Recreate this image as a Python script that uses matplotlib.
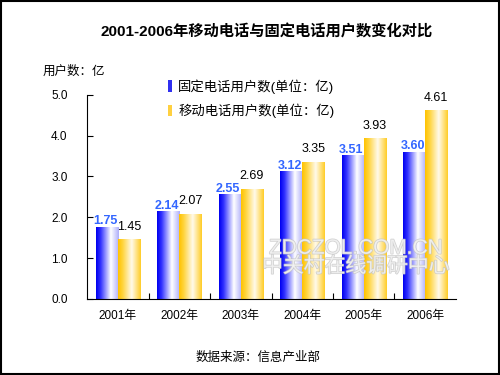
import numpy as np
import matplotlib
matplotlib.use('Agg')
import matplotlib.pyplot as plt
from matplotlib.patches import Patch, Rectangle
import matplotlib.patheffects as pe

plt.rcParams['font.family'] = ['Liberation Sans', 'Noto Sans CJK SC', 'DejaVu Sans']

years = ['2001年', '2002年', '2003年', '2004年', '2005年', '2006年']
fixed = [1.75, 2.14, 2.55, 3.12, 3.51, 3.60]
mobile = [1.45, 2.07, 2.69, 3.35, 3.93, 4.61]
fixed_label = '固定电话用户数(单位：亿)'
mobile_label = '移动电话用户数(单位：亿)'


def gradient(stops, n=64):
    pos = [s[0] for s in stops]
    cols = np.array([s[1] for s in stops], dtype=float) / 255
    t = np.linspace(0, 1, n)
    img = np.stack([np.interp(t, pos, cols[:, k]) for k in range(3)], axis=-1)
    return img[np.newaxis, :, :]


blue_grad = gradient([(0, (0, 0, 240)), (0.2, (50, 50, 255)), (0.65, (255, 255, 255)), (1, (175, 175, 250))])
gold_grad = gradient([(0, (255, 195, 0)), (0.2, (255, 212, 60)), (0.6, (255, 250, 235)), (1, (255, 205, 40))])

fig = plt.figure(figsize=(5, 3.75), dpi=100)
ax = fig.add_axes([0.174, 0.203, 0.738, 0.544])

x = np.arange(len(years))
w = 0.36
for i in range(len(years)):
    x0 = x[i] - w
    ax.imshow(blue_grad, extent=(x0, x0 + w, 0, fixed[i]), aspect='auto', zorder=2)
    ax.imshow(gold_grad, extent=(x0 + w, x0 + 2 * w, 0, mobile[i]), aspect='auto', zorder=2)
    ax.annotate('%.2f' % fixed[i], (x0 + w / 2, fixed[i]), xytext=(-1, 0), textcoords='offset points',
                ha='center', va='bottom', fontsize=9, fontweight='bold', color='#3366ff', zorder=4)
    ax.annotate('%.2f' % mobile[i], (x0 + 1.5 * w, mobile[i]), xytext=(0, 5), textcoords='offset points',
                ha='center', va='bottom', fontsize=9, color='black', zorder=4)

ax.set_xlim(-0.5, len(years) - 0.5)
ax.set_ylim(0, 5)
ax.set_yticks(np.arange(0, 5.1, 1.0))
ax.set_yticklabels(['%.1f' % v for v in np.arange(0, 5.1, 1.0)])
ax.set_xticks(x)
ax.set_xticklabels(years)
ax.set_xticks(np.arange(0.5, len(years) - 1, 1), minor=True)
ax.tick_params(axis='x', which='major', length=0, pad=8, labelsize=8.5)
ax.tick_params(axis='x', which='minor', direction='in', length=4, width=0.8)
ax.tick_params(axis='y', direction='in', length=4, width=0.8, pad=14, labelsize=8.5)
ax.spines['top'].set_visible(False)
ax.spines['right'].set_visible(False)
for s in ('left', 'bottom'):
    ax.spines[s].set_linewidth(0.8)

handles = [Patch(facecolor='#3030f0', edgecolor='none'), Patch(facecolor='#ffd040', edgecolor='none')]
fig.legend(handles, [fixed_label, mobile_label], loc='upper left', bbox_to_anchor=(0.322, 0.807),
           frameon=False, fontsize=9.6, handlelength=0.35, handleheight=0.9, handletextpad=0.45,
           labelspacing=0.75, borderpad=0)

fig.text(0.534, 0.915, '2001-2006年移动电话与固定电话用户数变化对比', ha='center', va='center',
         fontsize=11, fontweight='bold')
fig.text(0.085, 0.808, '用户数：亿', ha='left', va='center', fontsize=9)
fig.text(0.516, 0.047, '数据来源：信息产业部', ha='center', va='center', fontsize=9)

wm = [pe.withStroke(linewidth=1.0, foreground='#c4c4c4')]
fig.text(0.712, 0.338, 'ZDCZOL.COM.CN', ha='center', va='center', fontsize=15, color='#f4f4f4',
         path_effects=wm, alpha=0.8, zorder=5)
fig.text(0.712, 0.29, '中关村在线调研中心', ha='center', va='center', fontsize=15, color='#f4f4f4',
         path_effects=wm, alpha=0.8, zorder=5)

fig.patches.append(Rectangle((0.002, 0.003), 0.995, 0.994, transform=fig.transFigure,
                             fill=False, edgecolor='black', linewidth=1.5))

fig.savefig('out.png', dpi=100)
